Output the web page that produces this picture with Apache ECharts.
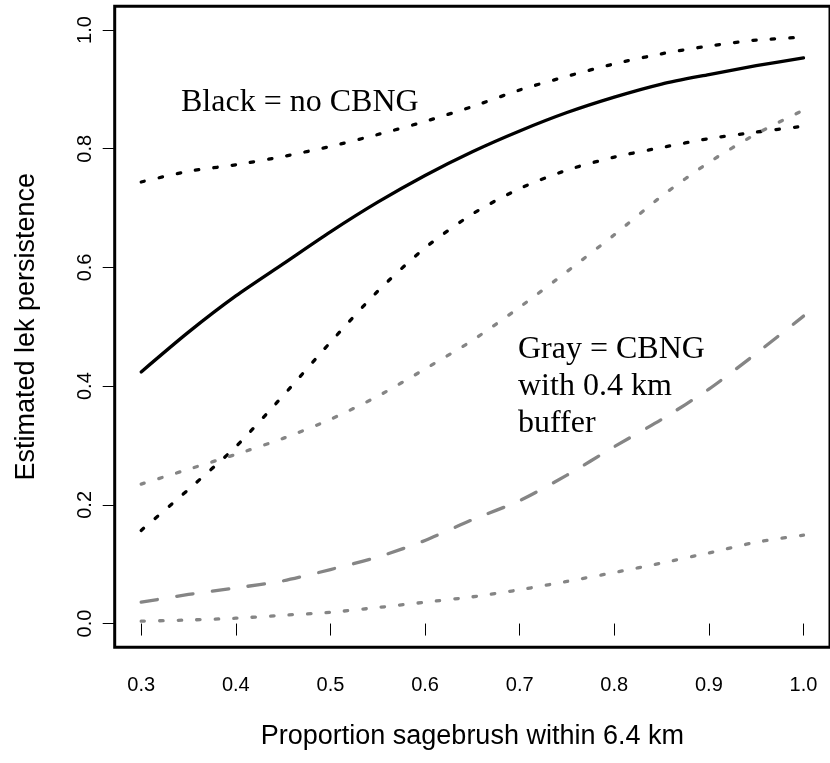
<!DOCTYPE html>
<html>
<head>
<meta charset="utf-8">
<script src="https://cdn.jsdelivr.net/npm/echarts@6/dist/echarts.min.js"></script>
<style>
html,body{margin:0;padding:0;background:#fff;}
#chart{width:830px;height:763px;}
</style>
</head>
<body>
<div id="chart"></div>
<script>
// Proportion sagebrush within 6.4 km
var xVals = [0.30,0.35,0.40,0.45,0.50,0.55,0.60,0.65,0.70,0.75,0.80,0.85,0.90,0.95,1.00];
// Black = no CBNG
var blackEst   = [0.424,0.491,0.552,0.606,0.660,0.710,0.755,0.795,0.830,0.861,0.887,0.909,0.925,0.940,0.953];
var blackUpper = [0.744,0.762,0.773,0.787,0.804,0.824,0.846,0.871,0.899,0.922,0.943,0.960,0.973,0.983,0.988];
var blackLower = [0.157,0.226,0.298,0.384,0.474,0.560,0.633,0.690,0.733,0.764,0.786,0.802,0.817,0.828,0.838];
// Gray = CBNG with 0.4 km buffer
var grayEst    = [0.036,0.049,0.060,0.072,0.091,0.112,0.140,0.175,0.207,0.250,0.298,0.344,0.395,0.455,0.518];
var grayUpper  = [0.235,0.260,0.285,0.312,0.344,0.383,0.429,0.477,0.533,0.593,0.655,0.720,0.777,0.825,0.865];
var grayLower  = [0.004,0.006,0.009,0.014,0.019,0.027,0.036,0.045,0.057,0.071,0.086,0.102,0.119,0.137,0.149];
// tick labels
var xTicks = [0.3,0.4,0.5,0.6,0.7,0.8,0.9,1.0];
var yTicks = [0.0,0.2,0.4,0.6,0.8,1.0];

function pairs(ys){ return xVals.map(function(x,i){ return [x, ys[i]]; }); }

var BLACK = '#000000', GRAY = '#858585';
var dotted = [3.4, 15.1], dashed = [16.5, 19.5];

function mk(name, ys, color, type){
  return {
    name: name, type: 'line', data: pairs(ys), showSymbol: false, symbol: 'none',
    smooth: 0.25, animation: false,
    lineStyle: { color: color, width: 3.3, type: type, cap: 'round', join: 'round' }
  };
}

var chart = echarts.init(document.getElementById('chart'), null, {renderer:'canvas'});
chart.setOption({
  animation: false,
  backgroundColor: '#ffffff',
  grid: { left: 114.7, top: 6.3, width: 719.3, height: 641, show: true,
          borderColor: '#000', borderWidth: 3, backgroundColor: 'transparent' },
  xAxis: {
    type: 'value', min: 0.272, max: 1.028,
    name: 'Proportion sagebrush within 6.4 km', nameLocation: 'middle', nameGap: 76,
    nameTextStyle: { fontFamily: 'Liberation Sans, Arial', fontSize: 27, color: '#000' },
    axisLine: { show: false },
    splitLine: { show: false },
    axisTick: { show: true, length: 12, customValues: xTicks, lineStyle: { color: '#000', width: 1 } },
    axisLabel: { customValues: xTicks, margin: 28, fontFamily: 'Liberation Sans, Arial', fontSize: 20, color: '#000',
                 formatter: function(v){ return v.toFixed(1); } }
  },
  yAxis: {
    type: 'value', min: -0.04, max: 1.04,
    name: 'Estimated lek persistence', nameLocation: 'middle', nameGap: 75,
    nameTextStyle: { fontFamily: 'Liberation Sans, Arial', fontSize: 27, color: '#000' },
    axisLine: { show: false },
    splitLine: { show: false },
    axisTick: { show: true, length: 12, customValues: yTicks, lineStyle: { color: '#000', width: 1 } },
    axisLabel: { customValues: yTicks, margin: 19, rotate: 90, fontFamily: 'Liberation Sans, Arial', fontSize: 20, color: '#000',
                 formatter: function(v){ return v.toFixed(1); } }
  },
  series: [
    mk('Black estimate', blackEst, BLACK, 'solid'),
    mk('Black upper', blackUpper, BLACK, dotted),
    mk('Black lower', blackLower, BLACK, dotted),
    mk('Gray estimate', grayEst, GRAY, dashed),
    mk('Gray upper', grayUpper, GRAY, dotted),
    mk('Gray lower', grayLower, GRAY, dotted)
  ],
  graphic: [
    { type: 'text', left: 181, top: 87, style: { text: 'Black = no CBNG', fill: '#000',
      font: '32px "Liberation Serif", "Times New Roman", serif' } },
    { type: 'text', left: 518, top: 331, style: { text: 'Gray = CBNG\nwith 0.4 km\nbuffer', fill: '#000',
      lineHeight: 37, font: '32px "Liberation Serif", "Times New Roman", serif' } }
  ]
});
</script>
</body>
</html>
